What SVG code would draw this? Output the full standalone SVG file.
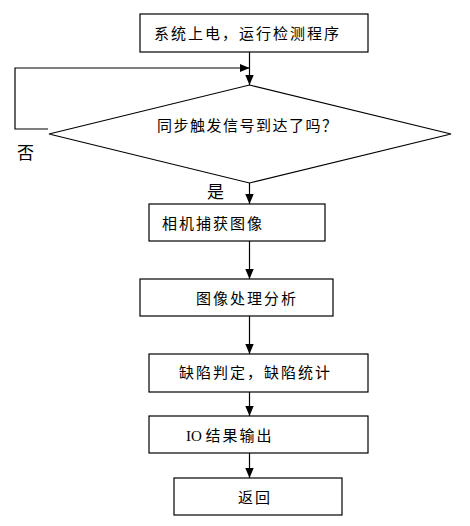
<svg xmlns="http://www.w3.org/2000/svg" width="470" height="526" viewBox="0 0 470 526">
<style>
.box{fill:#fff;stroke:#000;stroke-width:1.2}
.ln{fill:none;stroke:#000;stroke-width:1.2}
.t{font-family:"Noto Sans CJK SC","Noto Sans",sans-serif;font-size:15px;fill:#000;letter-spacing:2px}
.lbl{font-family:"Noto Sans CJK SC",sans-serif;font-size:17px;fill:#000}
</style>
<defs>
<marker id="ah" markerWidth="10" markerHeight="10" viewBox="0 0 10 10" refX="10" refY="5" orient="auto" markerUnits="userSpaceOnUse">
<path d="M0,0.8 L10,5 L0,9.2 Z" fill="#000"/>
</marker>
</defs>
<rect width="470" height="526" fill="#fff"/>
<g id="connectors">
<line class="ln" x1="249.5" y1="52" x2="249.5" y2="85" marker-end="url(#ah)"/>
<polyline class="ln" points="48,129 15,129 15,68 249.5,68" marker-end="url(#ah)"/>
<line class="ln" x1="249.5" y1="183" x2="249.5" y2="204" marker-end="url(#ah)"/>
<line class="ln" x1="249.5" y1="241" x2="249.5" y2="279" marker-end="url(#ah)"/>
<line class="ln" x1="249.5" y1="316" x2="249.5" y2="354" marker-end="url(#ah)"/>
<line class="ln" x1="249.5" y1="392" x2="249.5" y2="416" marker-end="url(#ah)"/>
<line class="ln" x1="249.5" y1="453" x2="249.5" y2="478" marker-end="url(#ah)"/>
<text class="lbl" x="17" y="159">否</text>
<text class="lbl" x="207" y="198">是</text>
</g>
<g id="start">
<rect class="box" x="140" y="14" width="228" height="38"/>
<text class="t" x="154" y="39">系统上电，运行检测程序</text>
</g>
<g id="decision">
<polygon class="box" points="249.5,85 451,134 249.5,183 49,134"/>
<text class="t" x="157" y="131" style="letter-spacing:1.5px">同步触发信号到达了吗？</text>
</g>
<g id="capture">
<rect class="box" x="149" y="204" width="176" height="37"/>
<text class="t" x="162" y="229">相机捕获图像</text>
</g>
<g id="process">
<rect class="box" x="140" y="279" width="193" height="37"/>
<text class="t" x="196" y="304">图像处理分析</text>
</g>
<g id="defect">
<rect class="box" x="149" y="354" width="219" height="38"/>
<text class="t" x="179" y="378">缺陷判定，缺陷统计</text>
</g>
<g id="output">
<rect class="box" x="149" y="416" width="219" height="37"/>
<text class="t" x="186" y="441"><tspan style="font-family:'Liberation Serif',serif;letter-spacing:0">IO </tspan>结果输出</text>
</g>
<g id="return">
<rect class="box" x="174" y="478" width="168" height="37"/>
<text class="t" x="238" y="503">返回</text>
</g>
</svg>
